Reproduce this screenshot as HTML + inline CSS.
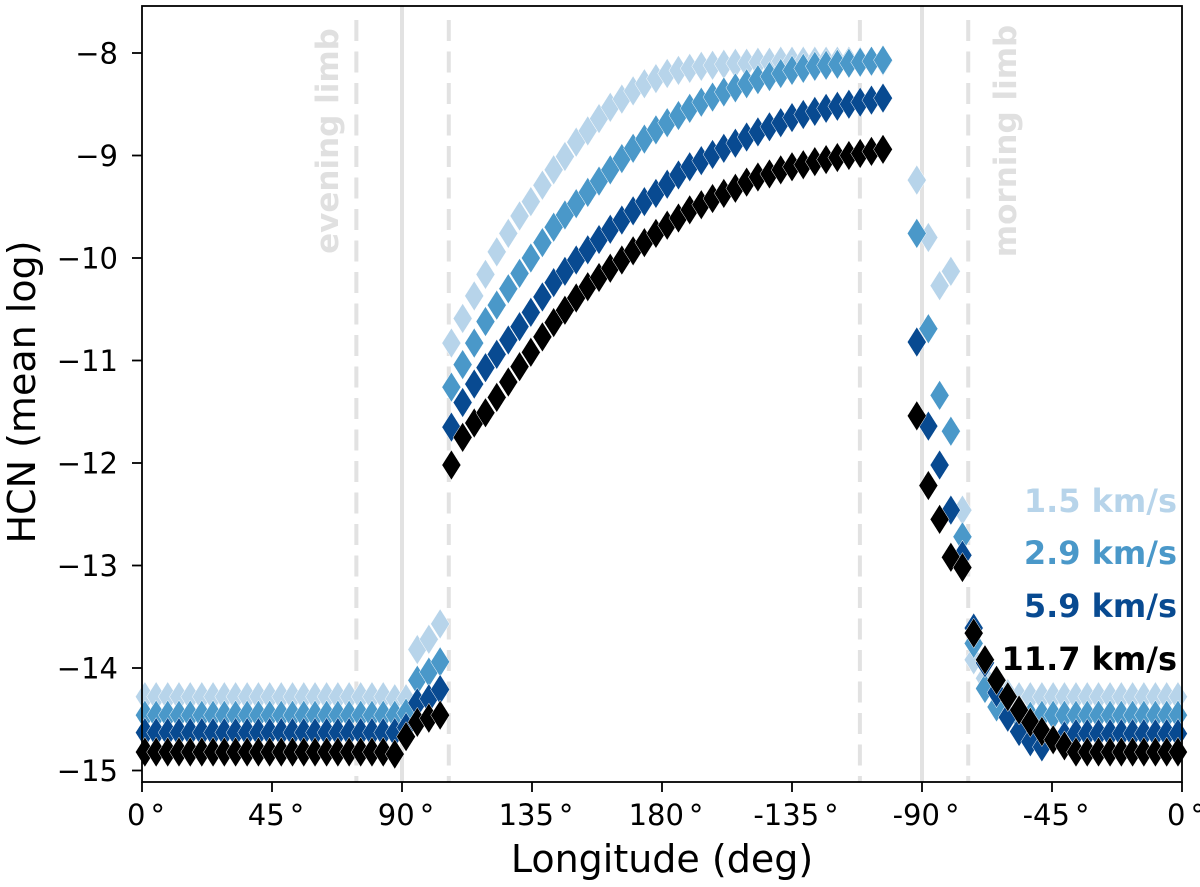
<!DOCTYPE html>
<html><head><meta charset="utf-8"><style>
html,body{margin:0;padding:0;background:#fff;}
svg{display:block;font-family:"DejaVu Sans","Liberation Sans",sans-serif;}
</style></head><body>
<svg id="chart" width="1200" height="887" viewBox="0 0 1200 887" xmlns="http://www.w3.org/2000/svg">
<g id="guides"></g>
<g id="marks"></g>
<g id="axes"></g>
<text transform="translate(338,141) rotate(-90)" text-anchor="middle" font-size="31" font-weight="bold" fill="#e0e0e0">evening limb</text>
<text transform="translate(1016,141) rotate(-90)" text-anchor="middle" font-size="31" font-weight="bold" fill="#e0e0e0">morning limb</text>
<text x="1177" y="512" text-anchor="end" font-size="32" font-weight="bold" fill="#b7d4ea">1.5 km/s</text>
<text x="1177" y="564" text-anchor="end" font-size="32" font-weight="bold" fill="#4a98c9">2.9 km/s</text>
<text x="1177" y="617" text-anchor="end" font-size="32" font-weight="bold" fill="#084a91">5.9 km/s</text>
<text x="1177" y="670" text-anchor="end" font-size="32" font-weight="bold" fill="#000">11.7 km/s</text>
<text x="662" y="872" text-anchor="middle" font-size="38">Longitude (deg)</text>
<text transform="translate(35,392) rotate(-90)" text-anchor="middle" font-size="38">HCN (mean log)</text>
</svg>
<script>
const lon = [1.0,4.9,8.9,12.8,16.7,20.7,24.6,28.5,32.4,36.4,40.3,44.2,48.2,52.1,56.0,59.9,63.9,67.8,71.7,75.7,79.6,83.5,87.5,91.4,95.3,99.3,103.2,107.1,111.0,115.0,118.9,122.8,126.8,130.7,134.6,138.6,142.5,146.4,150.3,154.3,158.2,162.1,166.1,170.0,173.9,177.9,181.8,185.7,189.6,193.6,197.5,201.4,205.4,209.3,213.2,217.2,221.1,225.0,228.9,232.9,236.8,240.7,244.7,248.6,252.5,256.5,260.4,264.3,268.2,272.2,276.1,280.0,284.0,287.9,291.8,295.8,299.7,303.6,307.5,311.5,315.4,319.3,323.3,327.2,331.1,335.1,339.0,342.9,346.8,350.8,354.7,358.6];
const v15 = [-14.28,-14.28,-14.28,-14.28,-14.28,-14.28,-14.28,-14.28,-14.28,-14.28,-14.28,-14.28,-14.28,-14.28,-14.28,-14.28,-14.28,-14.28,-14.28,-14.28,-14.28,-14.28,-14.3,-14.3,-13.82,-13.72,-13.57,
-10.83,-10.59,-10.37,-10.16,-9.94,-9.76,-9.59,-9.45,-9.29,-9.14,-9.01,-8.87,-8.76,-8.64,-8.53,-8.45,-8.37,-8.30,-8.25,-8.20,-8.17,-8.15,-8.13,-8.12,-8.11,-8.10,-8.10,-8.09,-8.09,-8.08,-8.08,-8.08,-8.08,-8.08,-8.08,-8.08,-8.08,-8.08,-8.08,
null,null,
-9.24,-9.80,-10.27,-10.13,-12.46,-13.92,-14.1,-14.2,-14.25,-14.28,-14.28,-14.28,-14.28,-14.28,-14.28,-14.28,-14.28,-14.28,-14.28,-14.28,-14.28,-14.28,-14.28,-14.28,-14.28];
const v29 = [-14.46,-14.46,-14.46,-14.46,-14.46,-14.46,-14.46,-14.46,-14.46,-14.46,-14.46,-14.46,-14.46,-14.46,-14.46,-14.46,-14.46,-14.46,-14.46,-14.46,-14.46,-14.46,-14.46,-14.44,-14.12,-14.04,-13.94,
-11.26,-11.04,-10.83,-10.62,-10.46,-10.30,-10.15,-10.00,-9.85,-9.70,-9.58,-9.47,-9.36,-9.25,-9.14,-9.03,-8.93,-8.84,-8.75,-8.68,-8.61,-8.54,-8.48,-8.43,-8.38,-8.34,-8.30,-8.26,-8.23,-8.20,-8.17,-8.15,-8.13,-8.12,-8.11,-8.10,-8.09,-8.08,-8.07,
null,null,
-9.76,-10.69,-11.34,-11.69,-12.72,-13.76,-14.2,-14.38,-14.48,-14.48,-14.47,-14.46,-14.46,-14.46,-14.46,-14.46,-14.46,-14.46,-14.46,-14.46,-14.46,-14.46,-14.46,-14.46,-14.46];
const v59 = [-14.63,-14.63,-14.63,-14.63,-14.63,-14.63,-14.63,-14.63,-14.63,-14.63,-14.63,-14.63,-14.63,-14.63,-14.63,-14.63,-14.63,-14.63,-14.63,-14.63,-14.63,-14.63,-14.63,-14.58,-14.34,-14.30,-14.21,
-11.65,-11.41,-11.23,-11.07,-10.94,-10.80,-10.67,-10.53,-10.38,-10.24,-10.13,-10.02,-9.92,-9.82,-9.72,-9.63,-9.54,-9.45,-9.37,-9.28,-9.19,-9.11,-9.05,-8.99,-8.93,-8.88,-8.82,-8.77,-8.72,-8.68,-8.63,-8.60,-8.57,-8.54,-8.52,-8.50,-8.48,-8.46,-8.44,
null,null,
-10.82,-11.64,-12.02,-12.46,-12.90,-13.61,-13.95,-14.24,-14.48,-14.62,-14.72,-14.77,-14.70,-14.66,-14.64,-14.64,-14.64,-14.64,-14.64,-14.64,-14.64,-14.64,-14.64,-14.64,-14.64];
const v117 = [-14.82,-14.82,-14.82,-14.82,-14.82,-14.82,-14.82,-14.82,-14.82,-14.82,-14.82,-14.82,-14.82,-14.82,-14.82,-14.82,-14.82,-14.82,-14.82,-14.82,-14.82,-14.82,-14.84,-14.67,-14.53,-14.49,-14.46,
-12.02,-11.75,-11.61,-11.51,-11.36,-11.21,-11.06,-10.92,-10.77,-10.63,-10.51,-10.39,-10.28,-10.19,-10.10,-10.02,-9.93,-9.85,-9.76,-9.68,-9.61,-9.53,-9.48,-9.42,-9.37,-9.32,-9.26,-9.21,-9.18,-9.14,-9.11,-9.09,-9.06,-9.04,-9.02,-9.00,-8.98,-8.96,-8.94,
null,null,
-11.54,-12.22,-12.55,-12.92,-13.02,-13.66,-13.92,-14.12,-14.28,-14.41,-14.53,-14.62,-14.70,-14.76,-14.82,-14.82,-14.82,-14.82,-14.82,-14.82,-14.82,-14.82,-14.82,-14.82,-14.82];
const xTicks = [0,45,90,135,180,225,270,315,360];
const xTickLabels = ["0","45","90","135","180","-135","-90","-45","0"];
const yTicks = [-8,-9,-10,-11,-12,-13,-14,-15];
const solidLimbs = [90,270];
const dashedLimbs = [74.2,106.2,248.5,286];

const NS="http://www.w3.org/2000/svg";
const L=142,R=1182,T=6,B=782;
function sx(d){return L+(d/360)*(R-L);}
function sy(v){return 668-(v+14)*102.5;}
function mk(tag,attrs,parent){const e=document.createElementNS(NS,tag);for(const k in attrs)e.setAttribute(k,attrs[k]);parent.appendChild(e);return e;}
const guides=document.getElementById('guides'),marks=document.getElementById('marks'),axes=document.getElementById('axes');

solidLimbs.forEach(d=>{const l=mk('line',{x1:sx(d),x2:sx(d),y1:T,y2:B,stroke:'#e2e2e2','stroke-width':4},guides);

});
dashedLimbs.forEach(d=>{const l=mk('line',{x1:sx(d),x2:sx(d),y1:T+14,y2:B,stroke:'#e2e2e2','stroke-width':4,'stroke-dasharray':'21,10.5'},guides);

});

const series=[[v15,'#b7d4ea','series-1-5-kms'],[v29,'#4a98c9','series-2-9-kms'],[v59,'#084a91','series-5-9-kms'],[v117,'#000000','series-11-7-kms']];
series.forEach(([vals,col,name])=>{
 const g=mk('g',{},marks);
 
 
 vals.forEach((v,i)=>{ if(v===null) return;
  const x=sx(lon[i]),y=sy(v);
  const p=mk('polygon',{points:`${x},${y-15} ${x+9.5},${y} ${x},${y+15} ${x-9.5},${y}`,fill:col,stroke:'#fff','stroke-width':0.5},g);
  
  
 });
});

const frame=mk('rect',{x:L,y:T,width:R-L,height:B-T,fill:'none',stroke:'#000','stroke-width':1.8},axes);


xTicks.forEach((d,i)=>{
 const t=mk('line',{x1:sx(d),x2:sx(d),y1:B,y2:B+10,stroke:'#000','stroke-width':1.8},axes);
 
 
 const tx=mk('text',{x:sx(d)+4,y:825,'text-anchor':'middle','font-size':29},axes);
 tx.textContent=xTickLabels[i];
 const sup=mk('tspan',{dx:5},tx);
 sup.textContent='°';
 
 
});
yTicks.forEach(v=>{
 const t=mk('line',{x1:L-10,x2:L,y1:sy(v),y2:sy(v),stroke:'#000','stroke-width':1.8},axes);
 
 
 const tx=mk('text',{x:L-24,y:sy(v)+10.5,'text-anchor':'end','font-size':29},axes);
 tx.textContent='\u2212'+Math.abs(v);
 
 
});
</script>
</body></html>
